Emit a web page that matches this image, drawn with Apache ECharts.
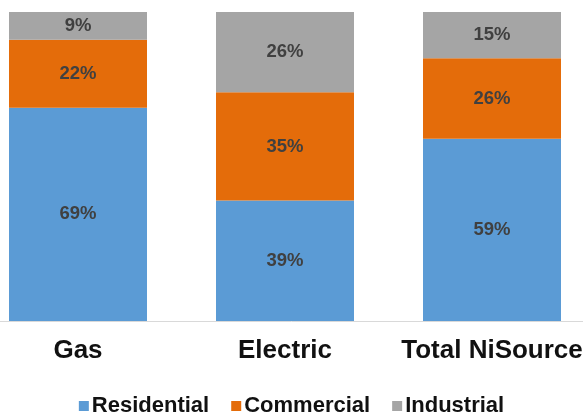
<!DOCTYPE html>
<html>
<head>
<meta charset="utf-8">
<style>
  html, body { margin: 0; padding: 0; background: #fff; }
  #chart { width: 583px; height: 414px; }
</style>
<script src="https://cdn.jsdelivr.net/npm/echarts@6/dist/echarts.min.js"></script>
</head>
<body>
<div id="chart"></div>
<script>
// Customer mix by segment, percent of each column
const categories = ['Gas', 'Electric', 'Total NiSource'];
const residential = [69, 39, 59];
const commercial = [22, 35, 26];
const industrial = [9, 26, 15];

const FONT = '"Liberation Sans", Arial, sans-serif';

const labelStyle = {
  show: true,
  position: 'inside',
  formatter: p => p.value + '%',
  color: '#404040',
  fontFamily: FONT,
  fontWeight: 'bold',
  fontSize: 18.5
};

function stackSeries(name, data, color) {
  return {
    name: name,
    type: 'bar',
    stack: 'mix',
    data: data,
    barWidth: 138,
    itemStyle: { color: color },
    label: labelStyle,
    emphasis: { disabled: true }
  };
}

const chart = echarts.init(document.getElementById('chart'), null, { renderer: 'canvas' });
chart.setOption({
  animation: false,
  grid: {
    left: -25.5, width: 621, top: 12, bottom: 93,
    containLabel: false,
    outerBoundsMode: 'none'
  },
  xAxis: {
    type: 'category',
    data: categories,
    axisLine: { lineStyle: { color: '#D9D9D9', width: 1 } },
    axisTick: { show: false },
    axisLabel: {
      interval: 0,
      hideOverlap: false,
      color: '#111',
      fontFamily: FONT,
      fontWeight: 'bold',
      fontSize: 26,
      margin: 17
    }
  },
  yAxis: {
    type: 'value',
    min: 0,
    max: 100,
    show: false,
    splitLine: { show: false }
  },
  legend: {
    left: 'center',
    top: 390,
    itemWidth: 10,
    itemHeight: 10,
    itemGap: 22,
    icon: 'rect',
    textStyle: {
      color: '#111',
      fontFamily: FONT,
      fontWeight: 'bold',
      fontSize: 22,
      padding: [0, 0, 0, -2]
    },
    data: ['Residential', 'Commercial', 'Industrial']
  },
  series: [
    stackSeries('Residential', residential, '#5B9BD5'),
    stackSeries('Commercial', commercial, '#E46C0A'),
    stackSeries('Industrial', industrial, '#A5A5A5')
  ]
});
</script>
</body>
</html>
